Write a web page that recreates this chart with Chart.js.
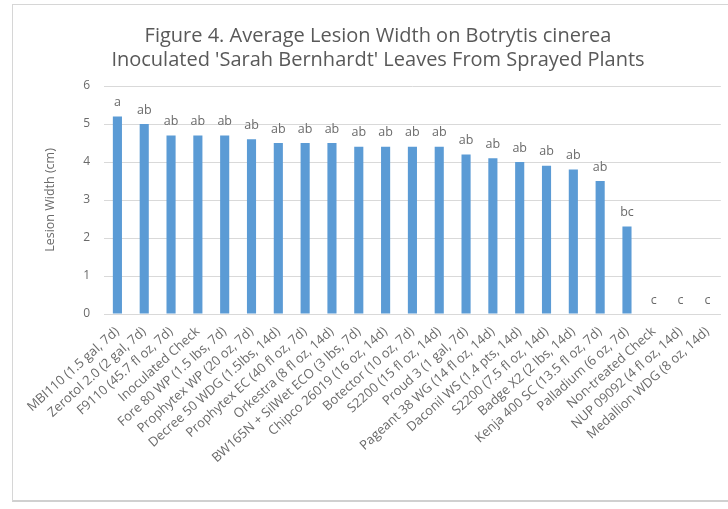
<!DOCTYPE html>
<html>
<head>
<meta charset="utf-8">
<script src="https://cdn.jsdelivr.net/npm/chart.js@4/dist/chart.umd.min.js"></script>
<style>
  html, body { margin: 0; padding: 0; background: #fff; }
  #wrap { position: relative; width: 728px; height: 509px; overflow: hidden; }
  #frame { position: absolute; left: 12px; top: 4px; width: 740px; height: 498px;
           border: 1px solid #d6d6d6; border-bottom: 2px solid #d0d0d0; box-sizing: border-box; }
  canvas { position: absolute; left: 0; top: 0; }
</style>
</head>
<body>
<div id="wrap">
  <div id="frame"></div>
  <canvas id="c" width="728" height="509"></canvas>
</div>
<script>
const categories = [
  "MBI110 (1.5 gal, 7d)",
  "Zerotol 2.0 (2 gal, 7d)",
  "F9110 (45.7 fl oz, 7d)",
  "Inoculated Check",
  "Fore 80 WP (1.5 lbs, 7d)",
  "Prophytex WP (20 oz, 7d)",
  "Decree 50 WDG (1.5lbs, 14d)",
  "Prophytex EC (40 fl oz, 7d)",
  "Orkestra (8 fl oz, 14d)",
  "BW165N + SilWet ECO (3 lbs, 7d)",
  "Chipco 26019 (16 oz, 14d)",
  "Botector (10 oz, 7d)",
  "S2200 (15 fl oz, 14d)",
  "Proud 3 (1 gal, 7d)",
  "Pageant 38 WG (14 fl oz, 14d)",
  "Daconil WS (1.4 pts, 14d)",
  "S2200 (7.5 fl oz, 14d)",
  "Badge X2 (2 lbs, 14d)",
  "Kenja 400 SC (13.5 fl oz, 7d)",
  "Palladium (6 oz, 7d)",
  "Non-treated Check",
  "NUP 09092 (4 fl oz, 14d)",
  "Medallion WDG (8 oz, 14d)"
];
const lesionWidth = [5.2, 5.0, 4.7, 4.7, 4.7, 4.6, 4.5, 4.5, 4.5, 4.4, 4.4, 4.4, 4.4, 4.2, 4.1, 4.0, 3.9, 3.8, 3.5, 2.3, 0, 0, 0];
const letters = ["a", "ab", "ab", "ab", "ab", "ab", "ab", "ab", "ab", "ab", "ab", "ab", "ab", "ab", "ab", "ab", "ab", "ab", "ab", "bc", "c", "c", "c"];
const yTicks = [0, 1, 2, 3, 4, 5, 6];

const FONT = "'Open Sans', sans-serif";

const letterPlugin = {
  id: 'letters',
  afterDatasetsDraw(chart) {
    const ctx = chart.ctx;
    const meta = chart.getDatasetMeta(0);
    ctx.save();
    ctx.font = "12.5px " + FONT;
    ctx.fillStyle = "#6a6a6a";
    ctx.textAlign = "center";
    ctx.textBaseline = "middle";
    meta.data.forEach((bar, i) => {
      ctx.fillText(letters[i], bar.x, bar.y - 14);
    });
    ctx.restore();
  }
};

new Chart(document.getElementById('c'), {
  type: 'bar',
  data: {
    labels: categories,
    datasets: [{
      data: lesionWidth,
      backgroundColor: '#5B9BD5',
      barPercentage: 0.34,
      categoryPercentage: 1.0
    }]
  },
  options: {
    responsive: false,
    animation: false,
    devicePixelRatio: 1,
    layout: { padding: { left: 34, right: 6, top: 0, bottom: 0 } },
    plugins: {
      legend: { display: false },
      tooltip: { enabled: false },
      title: {
        display: true,
        text: ["Figure 4. Average Lesion Width on Botrytis cinerea", "Inoculated 'Sarah Bernhardt' Leaves From Sprayed Plants"],
        color: '#595959',
        font: { family: FONT, size: 20, weight: 'normal', lineHeight: 1.2 },
        padding: { top: 24, bottom: 14 }
      }
    },
    scales: {
      x: {
        grid: { display: false, drawTicks: false },
        border: { display: true, color: '#d9d9d9' },
        ticks: {
          color: '#6a6a6a',
          font: { family: FONT, size: 13 },
          minRotation: 42,
          maxRotation: 42,
          autoSkip: false,
          padding: 10
        },
        afterFit(scale) { scale.height = 195; }
      },
      y: {
        min: 0,
        max: 6,
        afterBuildTicks(scale) { scale.ticks = yTicks.map(v => ({ value: v })); },
        grid: { color: '#d9d9d9', drawTicks: false },
        border: { display: false },
        ticks: {
          color: '#6a6a6a',
          font: { family: FONT, size: 12 },
          padding: 14
        },
        title: {
          display: true,
          text: 'Lesion Width (cm)',
          color: '#6a6a6a',
          font: { family: FONT, size: 12.5 },
          padding: { top: 9, bottom: 0 }
        },
        afterFit(scale) { scale.width = 70; }
      }
    }
  },
  plugins: [letterPlugin]
});
</script>
</body>
</html>
